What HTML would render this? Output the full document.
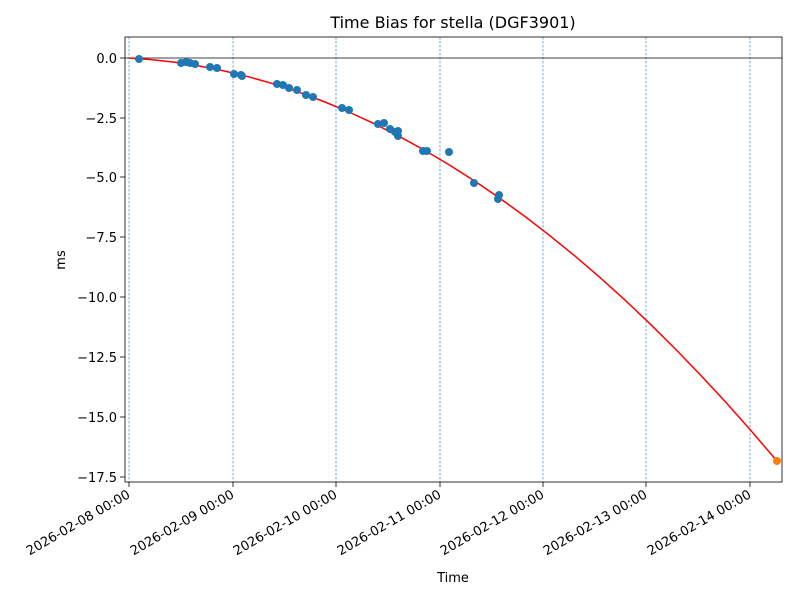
<!DOCTYPE html>
<html><head><meta charset="utf-8"><style>body{margin:0;background:#fff}svg{display:block;font-family:"DejaVu Sans","Liberation Sans",sans-serif}</style></head>
<body>
<svg width="800" height="600" viewBox="0 0 800 600" xmlns="http://www.w3.org/2000/svg">
<rect width="800" height="600" fill="#fff"/>
<text x="453" y="28" font-size="16" text-anchor="middle">Time Bias for stella (DGF3901)</text>
<g stroke="#1f77b4" stroke-width="0.6" stroke-dasharray="2.5,1.5">
<line x1="129" y1="37" x2="129" y2="482"/><line x1="233" y1="37" x2="233" y2="482"/><line x1="336" y1="37" x2="336" y2="482"/><line x1="440" y1="37" x2="440" y2="482"/><line x1="543" y1="37" x2="543" y2="482"/><line x1="646" y1="37" x2="646" y2="482"/><line x1="750" y1="37" x2="750" y2="482"/>
</g>
<line x1="125" y1="58" x2="782" y2="58" stroke="#000" stroke-width="0.8"/>
<polyline fill="none" stroke="#ff0000" stroke-width="1.5" points="129,58 150,59.5 175,62.3 200,66.1 225,71.1 250,77.2 275,84.3 300,92.6 325,102 350,112.5 375,124.1 400,136.8 425,150.5 450,165.4 475,181.3 500,198.4 525,216.5 550,235.8 575,256.1 600,277.6 625,300.1 650,323.8 675,348.6 700,374.5 725,401.4 750,429.5 777,461"/>
<g fill="#1f77b4">
<circle cx="139" cy="59" r="4"/><circle cx="181" cy="63" r="4"/><circle cx="186" cy="62" r="4"/><circle cx="190" cy="63" r="4"/><circle cx="195" cy="64" r="4"/><circle cx="210" cy="67" r="4"/><circle cx="217" cy="68" r="4"/><circle cx="234" cy="74" r="4"/><circle cx="241" cy="75" r="4"/><circle cx="242" cy="76" r="4"/><circle cx="277" cy="84" r="4"/><circle cx="283" cy="85" r="4"/><circle cx="289" cy="88" r="4"/><circle cx="297" cy="90" r="4"/><circle cx="306" cy="95" r="4"/><circle cx="313" cy="97" r="4"/><circle cx="342" cy="108" r="4"/><circle cx="349" cy="110" r="4"/><circle cx="378" cy="124" r="4"/><circle cx="384" cy="123" r="4"/><circle cx="390" cy="129" r="4"/><circle cx="395" cy="132" r="4"/><circle cx="398" cy="136" r="4"/><circle cx="398" cy="131" r="4"/><circle cx="423" cy="151" r="4"/><circle cx="427" cy="151" r="4"/><circle cx="449" cy="152" r="4"/><circle cx="474" cy="183" r="4"/><circle cx="498" cy="199" r="4"/><circle cx="499" cy="195" r="4"/>
</g>
<circle cx="777" cy="461" r="4" fill="#ff7f0e"/>
<rect x="125" y="37" width="657" height="445" fill="none" stroke="#000" stroke-width="0.8"/>
<g stroke="#000" stroke-width="0.8">
<line x1="120" y1="58" x2="125" y2="58"/><line x1="120" y1="118" x2="125" y2="118"/><line x1="120" y1="177" x2="125" y2="177"/><line x1="120" y1="237" x2="125" y2="237"/><line x1="120" y1="297" x2="125" y2="297"/><line x1="120" y1="357" x2="125" y2="357"/><line x1="120" y1="417" x2="125" y2="417"/><line x1="120" y1="477" x2="125" y2="477"/>
<line x1="129" y1="482" x2="129" y2="487"/><line x1="233" y1="482" x2="233" y2="487"/><line x1="336" y1="482" x2="336" y2="487"/><line x1="440" y1="482" x2="440" y2="487"/><line x1="543" y1="482" x2="543" y2="487"/><line x1="646" y1="482" x2="646" y2="487"/><line x1="750" y1="482" x2="750" y2="487"/>
</g>
<g font-size="13" text-anchor="end">
<text x="117" y="63">0.0</text><text x="117" y="123">−2.5</text><text x="117" y="182">−5.0</text><text x="117" y="242">−7.5</text><text x="117" y="302">−10.0</text><text x="117" y="362">−12.5</text><text x="117" y="422">−15.0</text><text x="117" y="482">−17.5</text>
</g>
<g font-size="13" text-anchor="end">
<text transform="translate(131,497) rotate(-30)">2026-02-08 00:00</text>
<text transform="translate(235,497) rotate(-30)">2026-02-09 00:00</text>
<text transform="translate(338,497) rotate(-30)">2026-02-10 00:00</text>
<text transform="translate(442,497) rotate(-30)">2026-02-11 00:00</text>
<text transform="translate(545,497) rotate(-30)">2026-02-12 00:00</text>
<text transform="translate(648,497) rotate(-30)">2026-02-13 00:00</text>
<text transform="translate(752,497) rotate(-30)">2026-02-14 00:00</text>
</g>
<text x="453" y="582" font-size="13" text-anchor="middle">Time</text>
<text transform="translate(65,260) rotate(-90)" font-size="13" text-anchor="middle">ms</text>
</svg>
</body></html>
